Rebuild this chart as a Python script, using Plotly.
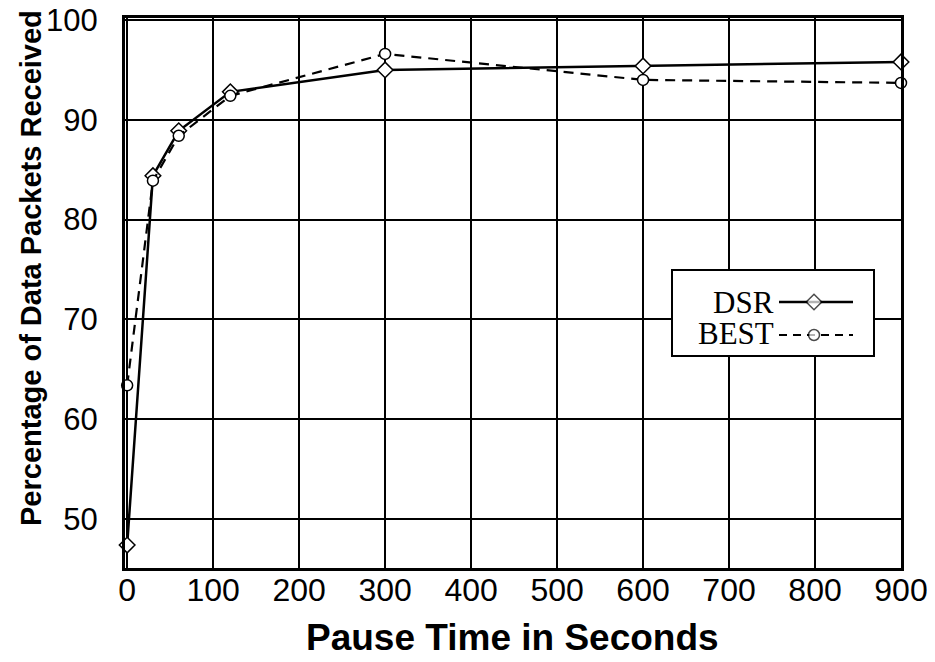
import plotly.graph_objects as go

pause = [0, 30, 60, 120, 300, 600, 900]
dsr = [47.4, 84.4, 88.9, 92.8, 95.0, 95.4, 95.8]
best = [63.4, 83.9, 88.4, 92.4, 96.6, 94.0, 93.7]
x_ticks = [0, 100, 200, 300, 400, 500, 600, 700, 800, 900]
y_ticks = [50, 60, 70, 80, 90, 100]
legend_names = ["DSR", "BEST"]

OFF = 8  # default page body margin
W, H = 935 - OFF, 662 - OFF
# plot area in page pixels: left 125, right 901, top 18, bottom 568
L = 125 - OFF
T = 18 - OFF
R = W - (901 - OFF)
B = H - (568 - OFF)
pw, ph = W - L - R, H - T - B

def px(x):
    return (x - OFF - L) / pw

def py(y):
    return (H - B - (y - OFF)) / ph

fig = go.Figure()
fig.add_trace(go.Scatter(
    x=pause, y=dsr, mode="lines+markers",
    line=dict(color="black", width=2.5),
    marker=dict(symbol="diamond", size=12, color="white", line=dict(color="black", width=1.5)),
    showlegend=False, cliponaxis=False,
))
fig.add_trace(go.Scatter(
    x=pause, y=best, mode="lines+markers",
    line=dict(color="black", width=2.2, dash="10px,7px"),
    marker=dict(symbol="circle", size=11, color="white", line=dict(color="black", width=1.5)),
    showlegend=False, cliponaxis=False,
))

# custom legend box as an inset subplot (text left, sample right)
bx0, bx1, by0, by1 = 673, 873, 271, 355
rows_y = [302, 334]
for name, ry in zip(legend_names, rows_y):
    fig.add_annotation(xref="paper", yref="paper", x=px(776), y=py(ry), text=name,
                       showarrow=False, xanchor="right", yanchor="middle",
                       font=dict(family="Liberation Serif", size=31, color="black"))

def bxr(p):
    return (p - bx0) / (bx1 - bx0)

def byr(p):
    return (by1 - p) / (by1 - by0)

sample_x = [bxr(779), bxr(814), bxr(853)]
fig.add_trace(go.Scatter(
    x=sample_x, y=[byr(rows_y[0])] * 3, xaxis="x2", yaxis="y2", mode="lines+markers",
    line=dict(color="black", width=2.5),
    marker=dict(symbol="diamond", size=[0, 12, 0], color="white", line=dict(color="black", width=1.5)),
    showlegend=False, hoverinfo="skip",
))
fig.add_trace(go.Scatter(
    x=sample_x, y=[byr(rows_y[1] + 1)] * 3, xaxis="x2", yaxis="y2", mode="lines+markers",
    line=dict(color="black", width=2.2, dash="8px,6px"),
    marker=dict(symbol="circle", size=[0, 11, 0], color="white", line=dict(color="black", width=1.5)),
    showlegend=False, hoverinfo="skip",
))

fig.add_annotation(xref="paper", yref="paper", x=px(31), y=py(268),
                   text="<b>Percentage of Data Packets Received</b>", textangle=-90,
                   showarrow=False, xanchor="center", yanchor="middle",
                   font=dict(family="Liberation Sans", size=29, color="black"))
fig.add_annotation(xref="paper", yref="paper", x=px(512), y=py(637),
                   text="<b>Pause Time in Seconds</b>",
                   showarrow=False, xanchor="center", yanchor="middle",
                   font=dict(family="Liberation Sans", size=37, color="black"))

fig.update_layout(
    width=W, height=H,
    margin=dict(l=L, r=R, t=T, b=B, autoexpand=False),
    paper_bgcolor="white", plot_bgcolor="white",
    font=dict(family="Liberation Sans, Arial", color="black"),
    xaxis=dict(
        range=[-2.5, 900], tickvals=x_ticks, ticktext=[str(v) for v in x_ticks],
        showgrid=True, gridcolor="black", gridwidth=1.5,
        showline=True, linecolor="black", linewidth=3, mirror=True,
        ticks="", ticklen=0, zeroline=False, automargin=False, ticklabelstandoff=-8,
        ticklabeloverflow="allow",
        tickfont=dict(size=32, family="Liberation Sans"),
    ),
    yaxis=dict(
        range=[45.1, 100.2], tickvals=y_ticks, ticktext=[str(v) for v in y_ticks],
        showgrid=True, gridcolor="black", gridwidth=1.5,
        showline=True, linecolor="black", linewidth=3, mirror=True,
        ticks="", ticklen=0, zeroline=False, ticklabelstandoff=18, automargin=False,
        ticklabeloverflow="allow",
        tickfont=dict(size=31, family="Liberation Sans"),
    ),
    xaxis2=dict(domain=[px(bx0), px(bx1)], range=[0, 1], anchor="y2",
                showgrid=False, zeroline=False, showticklabels=False, ticks="",
                showline=True, linecolor="black", linewidth=1.5, mirror=True, fixedrange=True),
    yaxis2=dict(domain=[py(by1), py(by0)], range=[0, 1], anchor="x2",
                showgrid=False, zeroline=False, showticklabels=False, ticks="",
                showline=True, linecolor="black", linewidth=1.5, mirror=True, fixedrange=True),
)

fig.write_html("out.html")
